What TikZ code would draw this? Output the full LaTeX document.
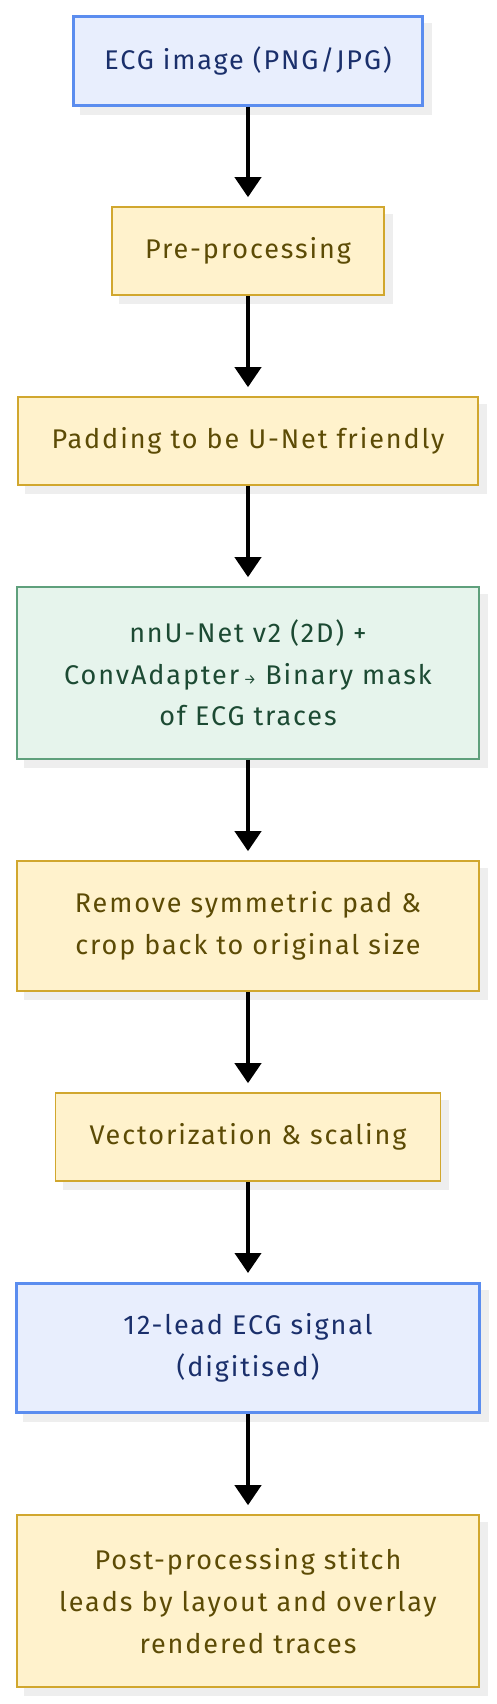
\documentclass[tikz,border=0pt]{standalone}
\usepackage{fontspec}
\setmainfont{Fira Sans}[LetterSpace=7]
\usetikzlibrary{arrows.meta}
\definecolor{bfill}{HTML}{E8EEFD}
\definecolor{bdraw}{HTML}{5B8DEF}
\definecolor{btext}{HTML}{1A2F6B}
\definecolor{yfill}{HTML}{FFF2CC}
\definecolor{ydraw}{HTML}{D1A72E}
\definecolor{ytext}{HTML}{5C4B05}
\definecolor{gfill}{HTML}{E6F4EC}
\definecolor{gdraw}{HTML}{5FA07C}
\definecolor{gtext}{HTML}{1C4A33}
\definecolor{shadowc}{HTML}{EEEEEE}
\tikzset{
  box/.style={rectangle, inner sep=0pt, align=center,
    font=\fontsize{27}{41.7}\selectfont,
    preaction={fill=shadowc, draw=shadowc, transform canvas={xshift=8pt,yshift=-8pt}}},
  bluebox/.style={box, fill=bfill, draw=bdraw, line width=3pt, text=btext},
  yelbox/.style={box, fill=yfill, draw=ydraw, line width=1.6pt, text=ytext},
  grnbox/.style={box, fill=gfill, draw=gdraw, line width=1.6pt, text=gtext},
  arr/.style={line width=4pt, -{Triangle[width=26pt,length=20pt]}}
}
\begin{document}
\begin{tikzpicture}[x=1pt,y=-1pt]
\useasboundingbox (0,0) rectangle (496,1704);
\node[bluebox, minimum width=349pt, minimum height=89pt] (n1) at (248,61) {ECG image (PNG/JPG)};
\node[yelbox, minimum width=272pt, minimum height=88pt] (n2) at (248,251) {Pre-processing};
\node[yelbox, minimum width=460pt, minimum height=88pt] (n3) at (248,441) {Padding to be U-Net friendly};
\node[grnbox, minimum width=462pt, minimum height=172pt] (n4) at (248,673) {nnU-Net v2 (2D) +\\ConvAdapter\,{\fontsize{14}{14}\selectfont →} Binary mask\\of ECG traces};
\node[yelbox, minimum width=462pt, minimum height=130pt] (n5) at (248,926) {Remove symmetric pad \&\\crop back to original size};
\node[yelbox, minimum width=385pt, minimum height=88pt] (n6) at (248,1137) {Vectorization \& scaling};
\node[bluebox, minimum width=463pt, minimum height=129pt] (n7) at (248,1348) {12-lead ECG signal\\(digitised)};
\node[yelbox, minimum width=462pt, minimum height=172pt] (n8) at (248,1601) {Post-processing stitch\\leads by layout and overlay\\rendered traces};
\draw[arr] (n1.south) -- ([yshift=9pt]n2.north);
\draw[arr] (n2.south) -- ([yshift=9pt]n3.north);
\draw[arr] (n3.south) -- ([yshift=9pt]n4.north);
\draw[arr] (n4.south) -- ([yshift=9pt]n5.north);
\draw[arr] (n5.south) -- ([yshift=9pt]n6.north);
\draw[arr] (n6.south) -- ([yshift=9pt]n7.north);
\draw[arr] (n7.south) -- ([yshift=9pt]n8.north);
\end{tikzpicture}
\end{document}
